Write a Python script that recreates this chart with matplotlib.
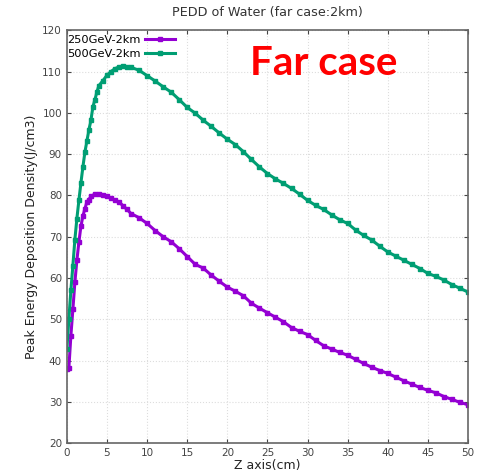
import numpy as np
import matplotlib.pyplot as plt

# Z (cm) and PEDD (J/cm3)
z_500 = [0, 0.25, 0.5, 0.75, 1.0, 1.25, 1.5, 1.75, 2.0, 2.25, 2.5, 2.75, 3.0, 3.25, 3.5, 3.75,
         4.0, 4.5, 5.0, 5.5, 6, 6.5, 7, 7.5, 8, 9, 10, 11, 12, 13, 14, 15, 16, 17, 18, 19, 20,
         21, 22, 23, 24, 25, 26, 27, 28, 29, 30, 31, 32, 33, 34, 35, 36, 37, 38, 39, 40,
         41, 42, 43, 44, 45, 46, 47, 48, 49, 50]
pedd_500 = [42.7, 50.0, 57.0, 63.0, 69.3, 74.4, 78.8, 83.0, 86.9, 90.5, 93.2, 95.9, 98.2, 101.5, 103.2, 105.1,
            106.6, 107.8, 109.1, 110.0, 110.7, 111.1, 111.3, 111.1, 111.0, 110.3, 109.0, 107.7, 106.3, 105.0, 103.2, 101.3, 99.9, 98.2, 96.7, 95.1, 93.6,
            92.3, 90.6, 88.7, 86.9, 85.3, 84.0, 82.9, 81.7, 80.3, 78.8, 77.6, 76.6, 75.3, 74.1, 73.2, 71.6, 70.3, 69.2, 67.7, 66.3,
            65.3, 64.3, 63.3, 62.3, 61.1, 60.4, 59.5, 58.4, 57.5, 56.6]

z_250 = [0, 0.25, 0.5, 0.75, 1.0, 1.25, 1.5, 1.75, 2.0, 2.25, 2.5, 2.75, 3.0, 3.5, 4.0, 4.5, 5.0, 5.5,
         6, 6.5, 7, 7.5, 8, 9, 10, 11, 12, 13, 14, 15, 16, 17, 18, 19, 20, 21, 22, 23, 24, 25,
         26, 27, 28, 29, 30, 31, 32, 33, 34, 35, 36, 37, 38, 39, 40, 41, 42, 43, 44, 45,
         46, 47, 48, 49, 50]
pedd_250 = [38.0, 38.2, 46.0, 52.4, 59.0, 64.3, 68.7, 72.5, 75.0, 76.8, 78.4, 79.0, 79.8, 80.3, 80.3, 80.1, 79.9, 79.3,
            78.8, 78.4, 77.5, 76.6, 75.6, 74.6, 73.2, 71.5, 70.0, 68.8, 67.1, 65.2, 63.3, 62.4, 60.7, 59.2, 57.8, 56.8, 55.7, 53.9, 52.7, 51.6,
            50.5, 49.4, 48.0, 47.1, 46.3, 44.9, 43.6, 42.8, 42.0, 41.3, 40.3, 39.3, 38.4, 37.6, 36.9, 36.0, 35.1, 34.3, 33.5, 32.8,
            32.2, 31.3, 30.6, 29.9, 29.3]

fig = plt.figure(figsize=(4.81, 4.72), dpi=100)
ax = fig.add_axes([0.139, 0.061, 0.834, 0.875])

ax.plot(z_250, pedd_250, color='#9400D3', lw=2.2, marker='s', ms=2.8, label='250GeV-2km')
ax.plot(z_500, pedd_500, color='#009E73', lw=2.2, marker='s', ms=2.8, label='500GeV-2km')

ax.set_xlim(0, 50)
ax.set_ylim(20, 120)
ax.set_xticks(np.arange(0, 51, 5))
ax.set_yticks(np.arange(20, 121, 10))
ax.grid(True, color='#dddddd', ls=':', lw=0.8)
ax.tick_params(direction='in', length=3, labelsize=7.5, colors='#444444',
               top=True, right=True)
for s in ax.spines.values():
    s.set_color('#666666')
    s.set_linewidth(1.2)

ax.set_title('PEDD of Water (far case:2km)', fontsize=9.2, color='#333333', pad=10)
ax.set_xlabel('Z axis(cm)', fontsize=9, color='#222222', labelpad=1)
ax.set_ylabel('Peak Energy Deposition Density(J/cm3)', fontsize=9, color='#222222', labelpad=3)

ax.legend(loc='upper left', bbox_to_anchor=(-0.012, 1.0), frameon=False,
          markerfirst=False, fontsize=8.2, handlelength=2.6, borderaxespad=0.0,
          borderpad=0.45, labelspacing=0.3, handletextpad=0.4)

ax.text(0.64, 0.92, 'Far case', transform=ax.transAxes, ha='center', va='center',
        color='#ff0000', fontsize=29, fontweight='bold', family='Lato')

fig.savefig('out.png', dpi=100)
